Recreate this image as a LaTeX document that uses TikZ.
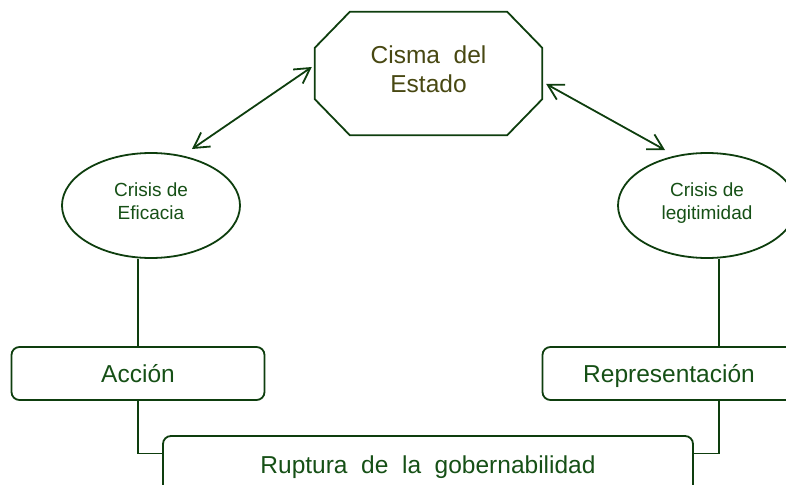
\documentclass[tikz,border=0pt]{standalone}
\usepackage{fontspec}
\setmainfont{Liberation Sans}
\usetikzlibrary{shapes.geometric,arrows.meta}
\definecolor{linegreen}{RGB}{14,62,14}
\definecolor{textgreen}{RGB}{22,80,22}
\definecolor{olivetext}{RGB}{72,72,18}
\tikzset{
  wire/.style={draw=linegreen, line width=1.8pt},
  link/.style={wire, {Straight Barb[length=15pt,width=17pt]}-{Straight Barb[length=15pt,width=17pt]}},
  crisis/.style={ellipse, wire, minimum width=178pt, minimum height=105pt, inner sep=0pt,
    align=center, text=textgreen, font=\fontsize{19}{23}\selectfont, text depth=8pt},
  box/.style={rectangle, rounded corners=8pt, wire, minimum height=53pt, inner sep=0pt,
    text=textgreen, font=\fontsize{24.5}{29}\selectfont, text height=18pt, text depth=0pt}
}
\begin{document}
\begin{tikzpicture}[x=1pt, y=-1pt]
\useasboundingbox (0,0) rectangle (786,484);
% nodes
\node (estado) at (428.5, 73.5) [minimum width=227pt, minimum height=123pt, align=center,
  text=olivetext, font=\fontsize{24.5}{29}\selectfont, text depth=9pt] {Cisma~~del\\Estado};
    \node[crisis] (eficacia) at (151, 205.5) {Crisis de\\Eficacia};
    \node[crisis] (legit) at (707, 205.5) {Crisis de\\legitimidad};
        \node[box, minimum width=253pt] (accion) at (138, 373.5) {Acción};
        \node[box, minimum width=253pt] (repr) at (669, 373.5) {Representación};
            \node[box, minimum width=530pt, minimum height=57pt] (ruptura) at (428, 464.5) {Ruptura~~de~~la~~gobernabilidad};
% octagon
\draw[wire] ([xshift=35pt]estado.north west) -- ([xshift=-35pt]estado.north east)
  -- ([yshift=-36pt]estado.north east) -- ([yshift=36pt]estado.south east)
  -- ([xshift=-35pt]estado.south east) -- ([xshift=35pt]estado.south west)
  -- ([yshift=36pt]estado.south west) -- ([yshift=-36pt]estado.north west) -- cycle;
% arrows
\draw[link] ([xshift=-3pt, yshift=6.5pt]estado.west) -- ([xshift=41pt, yshift=56.5pt]eficacia.center);
\draw[link] ([xshift=4pt, yshift=-10.5pt]estado.east) -- ([xshift=-42pt, yshift=55.5pt]legit.center);
% lines
    \draw[wire] (accion.north) -- (accion.north |- eficacia.south);
    \draw[wire] ([xshift=50pt]repr.north) -- ([xshift=50pt]repr.north |- legit.south);
        \draw[wire] (accion.south) |- ([yshift=11pt]ruptura.west);
        \draw[wire] ([xshift=50pt]repr.south) |- ([yshift=11pt]ruptura.east);
\end{tikzpicture}
\end{document}
